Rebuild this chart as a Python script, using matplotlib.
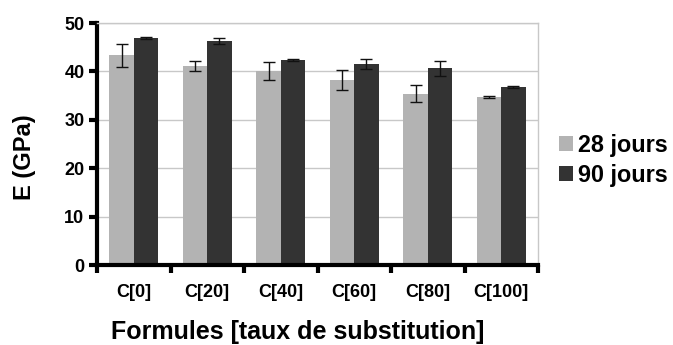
import matplotlib.pyplot as plt
import numpy as np
from matplotlib.patches import Patch

plt.rcParams['font.family'] = ['Liberation Sans', 'DejaVu Sans']

categories = ['C[0]', 'C[20]', 'C[40]', 'C[60]', 'C[80]', 'C[100]']
e_28 = [43.3, 41.1, 40.1, 38.2, 35.4, 34.8]
err_28 = [2.3, 1.0, 1.9, 2.1, 1.8, 0.2]
e_90 = [46.9, 46.3, 42.3, 41.5, 40.6, 36.7]
err_90 = [0.3, 0.6, 0.2, 1.1, 1.5, 0.2]
series_labels = ['28 jours', '90 jours']
colors = ['#b3b3b3', '#333333']

fig = plt.figure(figsize=(6.73, 3.45), dpi=100)
ax = fig.add_axes([97 / 673, (345 - 265) / 345, (538 - 97) / 673, (265 - 23) / 345])

x = np.arange(len(categories))
w = 0.33
ax.bar(x - w / 2, e_28, w, color=colors[0], zorder=2)
ax.bar(x + w / 2, e_90, w, color=colors[1], zorder=2)
ek = dict(fmt='none', ecolor='#111111', elinewidth=1.0, capsize=4, capthick=1.0, zorder=3)
ax.errorbar(x - w / 2, e_28, yerr=err_28, **ek)
ax.errorbar(x + w / 2, e_90, yerr=err_90, **ek)

ax.set_xlim(-0.5, len(categories) - 0.5)
ax.set_ylim(0, 50)
ax.set_yticks(range(0, 51, 10))
ax.yaxis.grid(True, color='#c8c8c8', linewidth=1.0, zorder=0)
ax.set_axisbelow(True)

# category boundaries carry the tick marks, labels sit at the centres
ax.set_xticks(np.arange(-0.5, len(categories), 1.0))
ax.set_xticklabels([''] * (len(categories) + 1))
ax.set_xticks(x, minor=True)
ax.set_xticklabels(categories, minor=True, fontsize=13, fontweight='bold')
ax.tick_params(axis='x', which='minor', length=0, pad=14)
ax.tick_params(axis='x', which='major', length=6, width=3, direction='out')
ax.tick_params(axis='y', length=6, width=3, direction='out', labelsize=13, pad=3)
for lbl in ax.get_yticklabels():
    lbl.set_fontweight('bold')

for side in ('left', 'bottom'):
    ax.spines[side].set_linewidth(3)
    ax.spines[side].set_color('black')
for side in ('top', 'right'):
    ax.spines[side].set_linewidth(1.0)
    ax.spines[side].set_color('#c8c8c8')

fig.text(25 / 673, 1 - 157 / 345, 'E (GPa)', rotation=90, ha='center', va='center',
         fontsize=17, fontweight='bold')
fig.text(298 / 673, 1 - 332 / 345, 'Formules [taux de substitution]', ha='center',
         va='center', fontsize=18, fontweight='bold')

handles = [Patch(facecolor=c, edgecolor='none') for c in colors]
leg = fig.legend(handles, series_labels, loc='center left',
                 bbox_to_anchor=(559 / 673, 1 - 160 / 345), frameon=False,
                 prop={'size': 16.8, 'weight': 'bold'}, handlelength=0.62,
                 handleheight=0.62, handletextpad=0.2, labelspacing=0.3,
                 borderaxespad=0, borderpad=0)

fig.savefig('out.png', dpi=100)
